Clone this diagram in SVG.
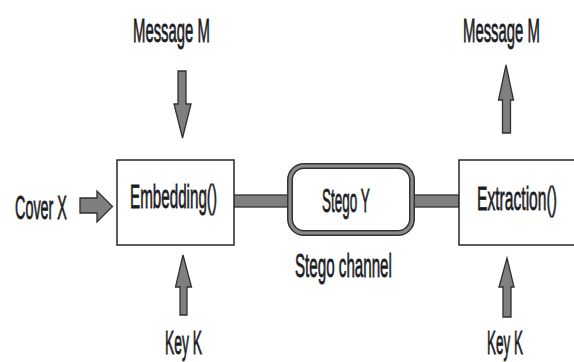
<svg xmlns="http://www.w3.org/2000/svg" width="574" height="362" viewBox="0 0 574 362">
<style>
.box{fill:#fff;stroke:#262626;stroke-width:1.5}
.arr{fill:#7f7f7f;stroke:#303030;stroke-width:1.3;stroke-linejoin:miter}
.t{font-family:"Liberation Sans",Arial,sans-serif;font-size:34px;fill:#1c1c24;stroke:#1c1c24;stroke-width:0.6;vector-effect:non-scaling-stroke;text-anchor:start}
</style>
<rect width="574" height="362" fill="#fff"/>
<g id="connectors">
<rect class="arr" x="233" y="195" width="59" height="12"/>
<rect class="arr" x="412" y="195" width="47" height="12"/>
<path class="arr" d="M178,71 H186 V104 H191 L182.5,138 L174,104 H178 Z"/>
<path class="arr" d="M80,198 H97 V191 L112.5,206.5 L97,222 V213 H80 Z"/>
<path class="arr" d="M183,255 L191.5,287 H187 V315 H180 V287 H175.5 Z"/>
<path class="arr" d="M506,65 L513.5,100 H510.5 V133 H502.5 V100 H498.5 Z"/>
<path class="arr" d="M507,258 L514,287 H511 V317 H503 V287 H499 Z"/>
</g>
<g id="message-m-in"><text class="t" transform="translate(133,42) scale(0.438,1)">Message M</text></g>
<g id="message-m-out"><text class="t" transform="translate(463,42) scale(0.438,1)">Message M</text></g>
<g id="cover-x"><text class="t" transform="translate(15,219) scale(0.423,1)">Cover X</text></g>
<g id="embedding"><rect class="box" x="117" y="160" width="117" height="85"/><text class="t" transform="translate(130,208) scale(0.447,1)">Embedding()</text></g>
<g id="stego-y">
<rect x="290" y="166" width="122" height="67" rx="14" fill="#fff" stroke="#333" stroke-width="6"/>
<rect x="290" y="166" width="122" height="67" rx="14" fill="none" stroke="#8a8a8a" stroke-width="3"/>
<text class="t" transform="translate(322,212) scale(0.397,1)">Stego Y</text>
</g>
<g id="stego-channel"><text class="t" transform="translate(295,277) scale(0.446,1)">Stego channel</text></g>
<g id="extraction"><rect class="box" x="459" y="160" width="130" height="85"/><text class="t" transform="translate(477,210) scale(0.46,1)">Extraction()</text></g>
<g id="key-k-in"><text class="t" transform="translate(165,354) scale(0.408,1)">Key K</text></g>
<g id="key-k-out"><text class="t" transform="translate(487,354) scale(0.397,1)">Key K</text></g>
</svg>
